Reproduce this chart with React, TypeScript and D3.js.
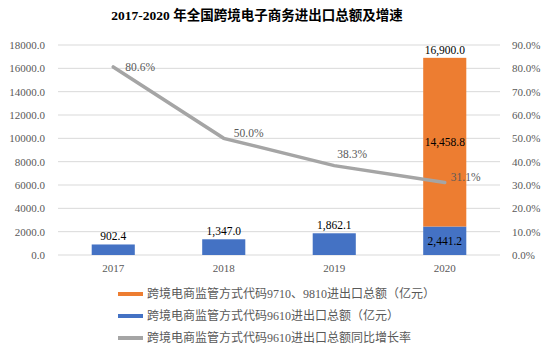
import React from "react";
import { scaleBand, scaleLinear, line, format } from "d3";

const years = ["2017", "2018", "2019", "2020"];
const code9610 = [902.4, 1347.0, 1862.1, 2441.2];
const code9710 = [0, 0, 0, 14458.8];
const totals = [902.4, 1347.0, 1862.1, 16900.0];
const growth = [0.806, 0.5, 0.383, 0.311];
const leftTicks = [0, 2000, 4000, 6000, 8000, 10000, 12000, 14000, 16000, 18000];
const rightTicks = [0, 0.1, 0.2, 0.3, 0.4, 0.5, 0.6, 0.7, 0.8, 0.9];
const legendItems = [
  { label: "跨境电商监管方式代码9710、9810进出口总额（亿元）", color: "#ED7D31" },
  { label: "跨境电商监管方式代码9610进出口总额（亿元）", color: "#4472C4" },
  { label: "跨境电商监管方式代码9610进出口总额同比增长率", color: "#A5A5A5" },
];

const W = 557, H = 353;
const left = 58, right = 500, top = 45, bottom = 255;
const serif = "'Liberation Serif', 'Times New Roman', serif";
const cjk = "'Liberation Serif', 'Noto Sans CJK SC', serif";
// where each growth label sits relative to its point
const pctOffset = [[12, 0], [10, -5], [3, -12], [6, -5]];

export default function App() {
  const x = scaleBand().domain(years).range([left, right]).paddingInner(0.61).paddingOuter(0.305);
  const y = scaleLinear().domain([0, 18000]).range([bottom, top]);
  const y2 = scaleLinear().domain([0, 0.9]).range([bottom, top]);
  const num = format(",.1f");
  const pct = format(".1%");
  const cx = (i: number) => (x(years[i]) as number) + x.bandwidth() / 2;

  const growthLine = line<number>()
    .x((d, i) => cx(i))
    .y((d) => y2(d));

  return (
    <div style={{ position: "fixed", left: 0, top: 0 }}>
      <svg width={W} height={H} style={{ background: "#fff", display: "block" }}>
        <text x={257} y={20} textAnchor="middle" fontFamily={cjk} fontWeight="bold" fontSize={13.5} fill="#000">
          2017-2020 年全国跨境电子商务进出口总额及增速
        </text>
        {leftTicks.map((t) => (
          <g key={t}>
            <line x1={left} x2={right} y1={y(t)} y2={y(t)} stroke="#D9D9D9" strokeWidth={1} />
            <text x={45} y={y(t)} dy="0.35em" textAnchor="end" fontFamily={serif} fontSize={11} fill="#595959">
              {t.toFixed(1)}
            </text>
          </g>
        ))}
        {rightTicks.map((t) => (
          <text key={t} x={512} y={y2(t)} dy="0.35em" fontFamily={serif} fontSize={11} fill="#595959">
            {pct(t)}
          </text>
        ))}
        {years.map((yr, i) => (
          <g key={yr}>
            <rect x={x(yr)} y={y(code9610[i])} width={x.bandwidth()} height={bottom - y(code9610[i])} fill="#4472C4" />
            {code9710[i] > 0 && (
              <rect
                x={x(yr)}
                y={y(code9610[i] + code9710[i])}
                width={x.bandwidth()}
                height={y(code9610[i]) - y(code9610[i] + code9710[i])}
                fill="#ED7D31"
              />
            )}
            <text x={cx(i)} y={272} textAnchor="middle" fontFamily={serif} fontSize={11} fill="#595959">
              {yr}
            </text>
          </g>
        ))}
        <path d={growthLine(growth) as string} fill="none" stroke="#A5A5A5" strokeWidth={3.5} strokeLinecap="round" />
        {years.map((yr, i) => (
          <g key={"lab" + yr} fontFamily={serif} fontSize={11.5}>
            {code9710[i] > 0 ? (
              <>
                <text x={cx(i)} y={y(totals[i]) - 4} textAnchor="middle" fill="#000">{num(totals[i])}</text>
                <text x={cx(i)} y={y(code9610[i] + code9710[i] / 2)} dy="0.35em" textAnchor="middle" fill="#000">
                  {num(code9710[i])}
                </text>
                <text x={cx(i)} y={y(code9610[i] / 2)} dy="0.35em" textAnchor="middle" fill="#000">
                  {num(code9610[i])}
                </text>
              </>
            ) : (
              <text x={cx(i)} y={y(code9610[i]) - 4} textAnchor="middle" fill="#000">{num(code9610[i])}</text>
            )}
            <text x={cx(i) + pctOffset[i][0]} y={y2(growth[i]) + pctOffset[i][1]} dy="0.35em" fill="#595959">
              {pct(growth[i])}
            </text>
          </g>
        ))}
        {legendItems.map((d, i) => (
          <g key={d.label} transform={`translate(118, ${294 + i * 22})`}>
            <line x1={0} x2={25} y1={0} y2={0} stroke={d.color} strokeWidth={4} />
            <text x={29} y={0} dy="0.35em" fontFamily={cjk} fontSize={12} fill="#595959">
              {d.label}
            </text>
          </g>
        ))}
      </svg>
    </div>
  );
}
